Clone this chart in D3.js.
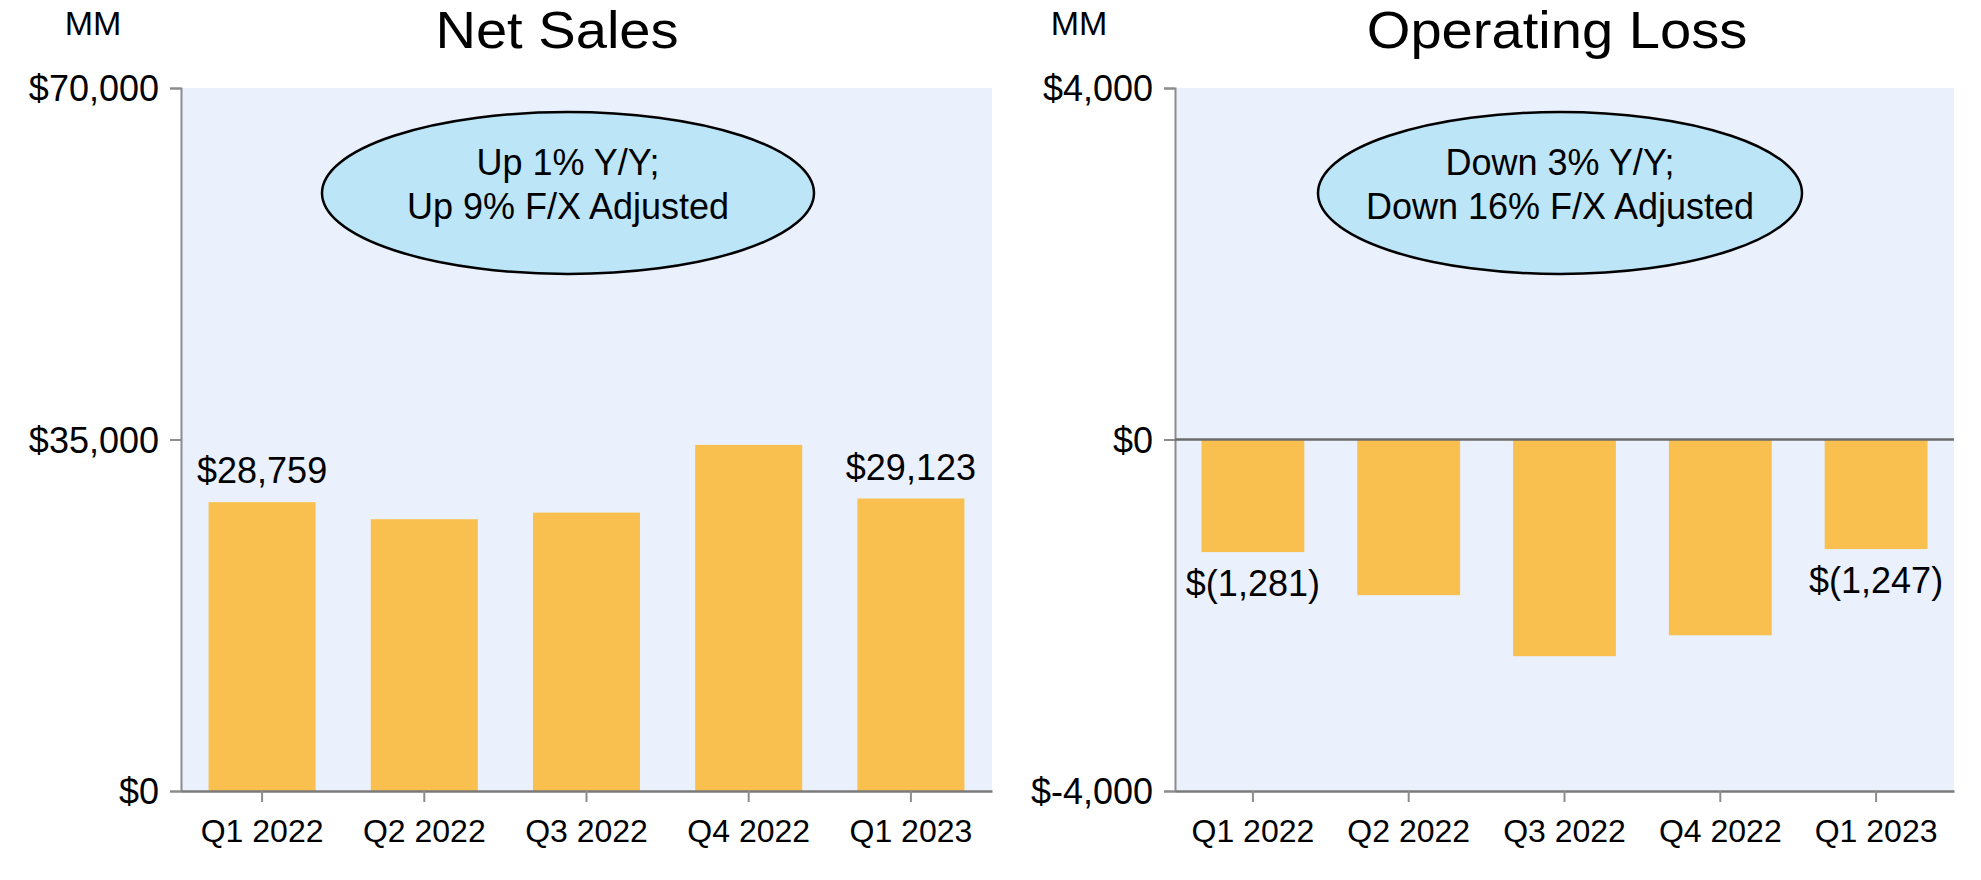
<!DOCTYPE html>
<html>
<head>
<meta charset="utf-8">
<script src="https://cdn.jsdelivr.net/npm/d3@7/dist/d3.min.js"></script>
<style>
  html, body { margin: 0; padding: 0; background: #ffffff; }
  svg { display: block; }
  text { font-family: "Liberation Sans", Arial, sans-serif; fill: #000; }
</style>
</head>
<body>
<svg id="chart" width="1981" height="880"></svg>
<script>
const categories = ["Q1 2022", "Q2 2022", "Q3 2022", "Q4 2022", "Q1 2023"];
const netSales = [28759, 27065, 27720, 34463, 29123];
const operatingLoss = [-1281, -1771, -2466, -2228, -1247];
const netSalesTicks = [0, 35000, 70000];
const opLossTicks = [-4000, 0, 4000];
const netSalesLabels = [{ i: 0, text: "$28,759" }, { i: 4, text: "$29,123" }];
const opLossLabels = [{ i: 0, text: "$(1,281)" }, { i: 4, text: "$(1,247)" }];
const titles = ["Net Sales", "Operating Loss"];
const bubbles = [["Up 1% Y/Y;", "Up 9% F/X Adjusted"], ["Down 3% Y/Y;", "Down 16% F/X Adjusted"]];

const svg = d3.select("#chart");
const fmt = v => (v < 0 ? "$-" : "$") + d3.format(",")(Math.abs(v));

function drawPanel(cfg) {
  const { x0, x1, y0, y1, domain, ticks, values, labels, title, titleX, mmX, bubble, bubbleCx, bubbleRx } = cfg;
  const g = svg.append("g");
  const x = d3.scaleBand().domain(categories).range([x0, x1]).paddingInner(0.34).paddingOuter(0.17);
  const y = d3.scaleLinear().domain(domain).range([y1, y0]);

  // plot background
  g.append("rect").attr("x", x0).attr("y", y0).attr("width", x1 - x0).attr("height", y1 - y0)
    .attr("fill", "#EAF1FC");

  // bars
  g.selectAll("rect.bar").data(values).join("rect").attr("class", "bar")
    .attr("x", (d, i) => x(categories[i]))
    .attr("width", x.bandwidth())
    .attr("y", d => Math.min(y(d), y(0)))
    .attr("height", d => Math.abs(y(d) - y(0)))
    .attr("fill", "#F9C04F");

  // y axis
  const yAxis = d3.axisLeft(y).tickValues(ticks).tickFormat(fmt).tickSize(11).tickPadding(11);
  const ya = g.append("g").attr("transform", `translate(${x0},0)`).call(yAxis);
  ya.select(".domain").attr("stroke", "#8c8c8c").attr("stroke-width", 2);
  ya.selectAll(".tick line").attr("stroke", "#8c8c8c").attr("stroke-width", 2);
  ya.selectAll(".tick text").attr("font-size", 36).attr("fill", "#000")
    .attr("font-family", "'Liberation Sans', Arial, sans-serif").attr("dy", "0.35em");

  // x axis at bottom
  const xAxis = d3.axisBottom(x).tickSize(11).tickPadding(10).tickSizeOuter(0);
  const xa = g.append("g").attr("transform", `translate(0,${y1})`).call(xAxis);
  xa.select(".domain").attr("stroke", "#7a7a7a").attr("stroke-width", 2.5);
  xa.selectAll(".tick line").attr("stroke", "#8c8c8c").attr("stroke-width", 2);
  xa.selectAll(".tick text").attr("font-size", 32).attr("fill", "#000")
    .attr("font-family", "'Liberation Sans', Arial, sans-serif").attr("dy", "0.95em");

  // zero line if domain crosses 0
  if (domain[0] < 0) {
    g.append("line").attr("x1", x0).attr("x2", x1).attr("y1", y(0)).attr("y2", y(0))
      .attr("stroke", "#6b6b6b").attr("stroke-width", 2.5);
  }

  // value labels
  g.selectAll("text.vlab").data(labels).join("text").attr("class", "vlab")
    .attr("x", d => x(categories[d.i]) + x.bandwidth() / 2)
    .attr("y", d => values[d.i] >= 0 ? y(values[d.i]) - 19 : y(values[d.i]) + 44)
    .attr("text-anchor", "middle").attr("font-size", 36)
    .text(d => d.text);

  // title (slightly wide, as in the reference)
  const t = g.append("text").attr("text-anchor", "middle")
    .attr("font-size", 51).text(title)
    .attr("transform", `translate(${titleX},48) scale(1.1,1)`);

  g.append("text").attr("x", mmX).attr("y", 35).attr("text-anchor", "middle")
    .attr("font-size", 34).attr("transform", null).text("MM");

  // bubble
  g.append("ellipse").attr("cx", bubbleCx).attr("cy", 193).attr("rx", bubbleRx).attr("ry", 81)
    .attr("fill", "#BDE5F8").attr("stroke", "#000").attr("stroke-width", 2.5);
  bubble.forEach((line, k) => {
    g.append("text").attr("x", bubbleCx).attr("y", 175 + k * 44).attr("text-anchor", "middle")
      .attr("font-size", 36).text(line);
  });
}

drawPanel({
  x0: 181, x1: 992, y0: 88, y1: 791,
  domain: [0, 70000], ticks: netSalesTicks, values: netSales, labels: netSalesLabels,
  title: titles[0], titleX: 557, mmX: 93, bubble: bubbles[0], bubbleCx: 568, bubbleRx: 246
});
drawPanel({
  x0: 1175, x1: 1954, y0: 88, y1: 791,
  domain: [-4000, 4000], ticks: opLossTicks, values: operatingLoss, labels: opLossLabels,
  title: titles[1], titleX: 1557, mmX: 1079, bubble: bubbles[1], bubbleCx: 1560, bubbleRx: 242
});
</script>
</body>
</html>
